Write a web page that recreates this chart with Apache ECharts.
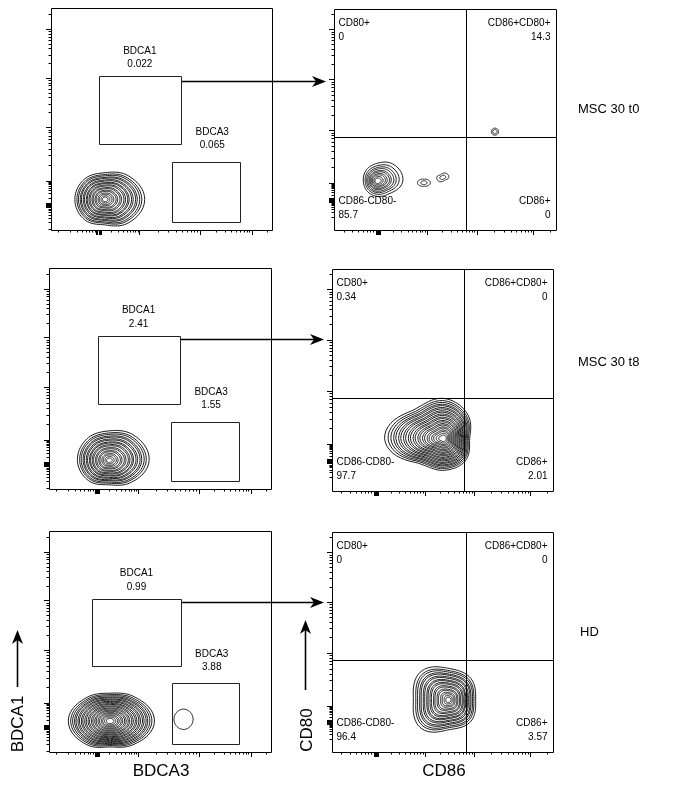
<!DOCTYPE html>
<html><head><meta charset="utf-8">
<script src="https://cdn.jsdelivr.net/npm/echarts@6/dist/echarts.min.js"></script>
<style>html,body{margin:0;padding:0;background:#fff}#c{width:685px;height:785px}</style>
</head><body><div id="c"></div>
<script>
// ---------------- data ----------------
const sampleNames = ['MSC 30 t0', 'MSC 30 t8', 'HD'];
const leftXLabel = 'BDCA3', leftYLabel = 'BDCA1';
const rightXLabel = 'CD86', rightYLabel = 'CD80';
const bdca1Values = ['0.022', '2.41', '0.99'];
const bdca3Values = ['0.065', '1.55', '3.88'];
const quadNames = ['CD80+', 'CD86+CD80+', 'CD86-CD80-', 'CD86+'];
const quadValues = [['0', '14.3', '85.7', '0'], ['0.34', '0', '97.7', '2.01'], ['0', '0', '96.4', '3.57']];
// gates in axis units [x1, x2, y1, y2]
const bdca1Gates = [[21.7, 58.7, 38.6, 69.4], [21.9, 58.8, 38.5, 69.4], [19.5, 59.3, 38.8, 69.4]];
const bdca3Gates = [[54.8, 85.7, 3.7, 30.6], [54.8, 85.8, 3.6, 30.5], [55.6, 85.6, 3.8, 31.0]];
const quadX = [59.3, 59.6, 60.7];
const quadY = [41.9, 41.7, 41.7];
const arrowY = [66.9, 68.0, 67.9];
// biexponential display axes: zero position and decade positions (axis units 0-100)
const leftXZero = 21.5, leftXDecades = [40, 67.5, 90.8];
const leftYZero = 11.3, leftYDecades = [22.2, 46.3, 68.6, 90.5];
const rightXZero = 19.8, rightXDecades = [42, 64.3, 89.8];
const rightYZero = 13.6, rightYDecades = [21.1, 45.2, 68.2, 90.8];
// contour populations
const levelsSparse = [1, 0.86, 0.75, 0.66, 0.56, 0.49, 0.4, 0.33, 0.24, 0.16];
const levelsA = [1, 0.93, 0.88, 0.82, 0.78, 0.72, 0.68, 0.62, 0.585, 0.53, 0.49, 0.43, 0.39, 0.33, 0.29, 0.23, 0.185, 0.13, 0.08];
const levelsB = [1, 0.945, 0.9, 0.855, 0.82, 0.775, 0.74, 0.695, 0.66, 0.615, 0.58, 0.535, 0.5, 0.455, 0.42, 0.375, 0.34, 0.295, 0.26, 0.215, 0.18, 0.135, 0.09];
const contourGrid = [0, 1, 1, 1, 1, 2, 3, 4, 4, 5];
const contourPeakX = [24.4, 19.5, 40.5, 49.0, 72.5, 27.1, 50.5, 27.5, 60.6, 52.8];
const contourPeakY = [13.8, 22.2, 21.4, 23.8, 44.5, 12.9, 23.6, 14.0, 14.8, 23.7];
// outer contour radius at 0,45,90,...,315 degrees
const contourRadii = [
  [18, 15, 12, 13, 13.6, 13, 11.5, 15],
  [11.5, 10.5, 8, 7, 6.3, 6.5, 7, 8],
  [2.9, 2.1, 1.6, 2.1, 2.9, 2.1, 1.6, 2.1],
  [2.7, 2.5, 1.8, 1.6, 2.7, 2.5, 1.8, 1.6],
  [1.6, 1.6, 1.6, 1.6, 1.6, 1.6, 1.6, 1.6],
  [18, 16, 13.4, 14, 14.3, 13, 11, 14],
  [11.8, 15.4, 18.1, 18.6, 26.7, 15.8, 14.3, 14],
  [20, 15.5, 12.6, 15, 18.8, 15, 11.7, 15],
  [4.3, 4.4, 4.6, 4.4, 4.3, 4.4, 4.6, 4.4],
  [12.2, 14, 14.3, 18, 16, 18, 13.6, 14]
];
const contourLevels = [levelsA, levelsSparse, [1, 0.5], [1, 0.5], [1, 0.6], levelsA, levelsB, levelsB, [1], levelsA];

// ---------------- layout / style ----------------
const layout = [
  {left: 51, top: 8, width: 221, height: 222},
  {left: 334, top: 9, width: 222, height: 221},
  {left: 49, top: 268, width: 222, height: 221},
  {left: 332, top: 269, width: 221, height: 222},
  {left: 49, top: 531, width: 222, height: 221},
  {left: 332, top: 532, width: 221, height: 220}
];
const FONT = '"Liberation Sans", Arial, Helvetica, sans-serif';
const crisp = v => Math.round(v) + 0.5;

function buildTicks(zero, decades) {
  const t = [];
  [-1, -0.5, 0, 0.5, 1].forEach(o => t.push([zero + o, 1]));
  const d0 = decades[0] - zero;
  for (let k = 1; k <= 9; k++) { const v = zero - d0 + d0 * Math.log10(k); if (v >= 0.3) t.push([v, 0]); }
  for (let k = 2; k <= 9; k++) t.push([zero + d0 * Math.log10(k), 0]);
  decades.forEach((d, i) => {
    t.push([d, 1]);
    const next = i < decades.length - 1 ? decades[i + 1] : d + (d - decades[i - 1]);
    for (let k = 2; k <= 9; k++) { const v = d + (next - d) * Math.log10(k); if (v <= 99.7) t.push([v, 0]); }
  });
  return t;
}

function renderTick(params, api) {
  const v = api.value(0), maj = api.value(1), dim = api.value(2);
  const len = maj ? 5 : 2.5;
  if (dim === 0) {
    const p = api.coord([v, 0]); const x = crisp(p[0]); const y = Math.round(p[1]);
    return {type: 'line', shape: {x1: x, y1: y, x2: x, y2: y + len}, style: {stroke: '#000', lineWidth: 1}};
  }
  const p = api.coord([0, v]); const y = crisp(p[1]); const x = Math.round(p[0]);
  return {type: 'line', shape: {x1: x - len, y1: y, x2: x, y2: y}, style: {stroke: '#000', lineWidth: 1}};
}

function rectEl(api, x1, x2, y1, y2, color) {
  const a = api.coord([x1, y2]), b = api.coord([x2, y1]);
  const ax = crisp(a[0]), ay = crisp(a[1]), bx = crisp(b[0]), by = crisp(b[1]);
  return {type: 'rect', shape: {x: ax, y: ay, width: bx - ax, height: by - ay},
    style: {fill: 'none', stroke: color, lineWidth: 1}};
}

function frameRenderer(gi) {
  const row = Math.floor(gi / 2), isLeft = gi % 2 === 0;
  return function (params, api) {
    const children = [rectEl(api, 0, 100, 0, 100, '#000')];
    if (isLeft) {
      const g1 = bdca1Gates[row], g3 = bdca3Gates[row];
      children.push(rectEl(api, g1[0], g1[1], g1[2], g1[3], '#222'));
      children.push(rectEl(api, g3[0], g3[1], g3[2], g3[3], '#222'));
    } else {
      const qa = api.coord([quadX[row], 0]), qb = api.coord([quadX[row], 100]);
      const qx = crisp(qa[0]);
      children.push({type: 'line', shape: {x1: qx, y1: Math.round(qb[1]), x2: qx, y2: Math.round(qa[1])}, style: {stroke: '#000', lineWidth: 1}});
      const ha = api.coord([0, quadY[row]]), hb = api.coord([100, quadY[row]]);
      const hy = crisp(ha[1]);
      children.push({type: 'line', shape: {x1: Math.round(ha[0]), y1: hy, x2: Math.round(hb[0]), y2: hy}, style: {stroke: '#000', lineWidth: 1}});
    }
    return {type: 'group', children};
  };
}

function radiusAt(radii, theta) {
  const n = radii.length, seg = theta / (2 * Math.PI / n);
  const i = Math.floor(seg), t = seg - i;
  const p0 = radii[(i - 1 + n) % n], p1 = radii[i % n], p2 = radii[(i + 1) % n], p3 = radii[(i + 2) % n];
  return 0.5 * ((2 * p1) + (-p0 + p2) * t + (2 * p0 - 5 * p1 + 4 * p2 - p3) * t * t + (-p0 + 3 * p1 - 3 * p2 + p3) * t * t * t);
}

function renderContour(params, api) {
  const idx = api.value(2);
  const cx = api.value(0), cy = api.value(1);
  const radii = contourRadii[idx], levels = contourLevels[idx];
  const rMean = radii.reduce((s, r) => s + r, 0) / radii.length;
  const children = levels.map(f => {
    const pts = [];
    for (let j = 0; j < 90; j++) {
      const th = j * 2 * Math.PI / 90;
      const r = f * ((0.8 + 0.2 * f) * radiusAt(radii, th) + 0.2 * (1 - f) * rMean);
      pts.push(api.coord([cx + r * Math.cos(th), cy + r * Math.sin(th)]));
    }
    return {type: 'polygon', shape: {points: pts}, style: {fill: 'none', stroke: '#000', lineWidth: 0.9}};
  });
  return {type: 'group', children};
}

const grids = layout.map(l => ({left: l.left, top: l.top, width: l.width, height: l.height, show: false}));
const axisCommon = {type: 'value', min: 0, max: 100, show: false};
const xAxes = layout.map((l, i) => Object.assign({gridIndex: i}, axisCommon));
const yAxes = layout.map((l, i) => Object.assign({gridIndex: i}, axisCommon));

const series = [];
layout.forEach((l, gi) => {
  const isLeft = gi % 2 === 0;
  const xt = isLeft ? buildTicks(leftXZero, leftXDecades) : buildTicks(rightXZero, rightXDecades);
  const yt = isLeft ? buildTicks(leftYZero, leftYDecades) : buildTicks(rightYZero, rightYDecades);
  series.push({
    type: 'custom', xAxisIndex: gi, yAxisIndex: gi, silent: true, clip: false, animation: false,
    renderItem: renderTick,
    data: xt.map(t => [t[0], t[1], 0]).concat(yt.map(t => [t[0], t[1], 1]))
  });
  series.push({
    type: 'custom', xAxisIndex: gi, yAxisIndex: gi, silent: true, clip: false, animation: false,
    renderItem: frameRenderer(gi), data: [[50, 50]]
  });
  const cdata = [];
  contourGrid.forEach((g, k) => { if (g === gi) cdata.push([contourPeakX[k], contourPeakY[k], k]); });
  series.push({
    type: 'custom', xAxisIndex: gi, yAxisIndex: gi, silent: true, clip: false, animation: false,
    renderItem: renderContour, data: cdata
  });
});

const chart = echarts.init(document.getElementById('c'), null, {renderer: 'canvas'});
chart.setOption({animation: false, grid: grids, xAxis: xAxes, yAxis: yAxes, series});

// ---------------- texts & arrows ----------------
const px = (gi, x, y) => chart.convertToPixel({gridIndex: gi}, [x, y]);
function txt(x, y, s, size, align, extra) {
  return Object.assign({type: 'text', x, y, silent: true,
    style: {text: s, x: 0, y: 0, font: size + 'px ' + FONT, fill: '#000',
      align: align, textAlign: align, verticalAlign: 'middle', textVerticalAlign: 'middle'}}, extra || {});
}
function arrowH(x1, x2, y) {
  return [
    {type: 'line', silent: true, shape: {x1, y1: y, x2: x2 - 8, y2: y}, style: {stroke: '#000', lineWidth: 1.6}},
    {type: 'polygon', silent: true, shape: {points: [[x2, y], [x2 - 14, y - 5.5], [x2 - 10, y], [x2 - 14, y + 5.5]]}, style: {fill: '#000'}}
  ];
}
function arrowV(x, yBottom, yTip) {
  return [
    {type: 'line', silent: true, shape: {x1: x, y1: yBottom, x2: x, y2: yTip + 8}, style: {stroke: '#000', lineWidth: 1.6}},
    {type: 'polygon', silent: true, shape: {points: [[x, yTip], [x - 5.5, yTip + 14], [x, yTip + 10], [x + 5.5, yTip + 14]]}, style: {fill: '#000'}}
  ];
}

const g = [];
for (let row = 0; row < 3; row++) {
  const L = row * 2, R = row * 2 + 1;
  const g1 = bdca1Gates[row], g3 = bdca3Gates[row];
  const p1 = px(L, (g1[0] + g1[1]) / 2, g1[3]);
  g.push(txt(p1[0], p1[1] - 25, 'BDCA1', 10, 'center'));
  g.push(txt(p1[0], p1[1] - 11.5, bdca1Values[row], 10, 'center'));
  const p3 = px(L, (g3[0] + g3[1]) / 2, g3[3]);
  g.push(txt(p3[0] + 6, p3[1] - 29.5, 'BDCA3', 10, 'center'));
  g.push(txt(p3[0] + 6, p3[1] - 16.5, bdca3Values[row], 10, 'center'));
  const tl = px(R, 0, 100), br = px(R, 100, 0);
  const qv = quadValues[row];
  g.push(txt(tl[0] + 4.5, tl[1] + 14.3, quadNames[0], 10, 'left'));
  g.push(txt(tl[0] + 4.5, tl[1] + 28, qv[0], 10, 'left'));
  g.push(txt(br[0] - 5.5, tl[1] + 14.3, quadNames[1], 10, 'right'));
  g.push(txt(br[0] - 5.5, tl[1] + 28, qv[1], 10, 'right'));
  g.push(txt(tl[0] + 4.5, br[1] - 28.5, quadNames[2], 10, 'left'));
  g.push(txt(tl[0] + 4.5, br[1] - 14.3, qv[2], 10, 'left'));
  g.push(txt(br[0] - 5.5, br[1] - 28.5, quadNames[3], 10, 'right'));
  g.push(txt(br[0] - 5.5, br[1] - 14.3, qv[3], 10, 'right'));
  // gate -> quadrant plot arrow
  const a0 = px(L, g1[1], arrowY[row]);
  const rl = px(R, 0, 0);
  g.push(...arrowH(Math.round(a0[0]), Math.round(rl[0]) - 8, Math.round(a0[1]) + 0.5));
}
g.push(txt(578, 109, sampleNames[0], 13, 'left'));
g.push(txt(578, 362, sampleNames[1], 13, 'left'));
g.push(txt(580, 632, sampleNames[2], 13, 'left'));
// axis titles
g.push(txt(161, 771, leftXLabel, 17, 'center'));
g.push(txt(444, 771, rightXLabel, 17, 'center'));
g.push(txt(18, 724, leftYLabel, 17, 'center', {rotation: Math.PI / 2}));
g.push(txt(307, 730, rightYLabel, 17, 'center', {rotation: Math.PI / 2}));
g.push(...arrowV(17.5, 687, 630));
g.push(...arrowV(305.5, 690, 620));

chart.setOption({graphic: {elements: g}});
</script></body></html>
